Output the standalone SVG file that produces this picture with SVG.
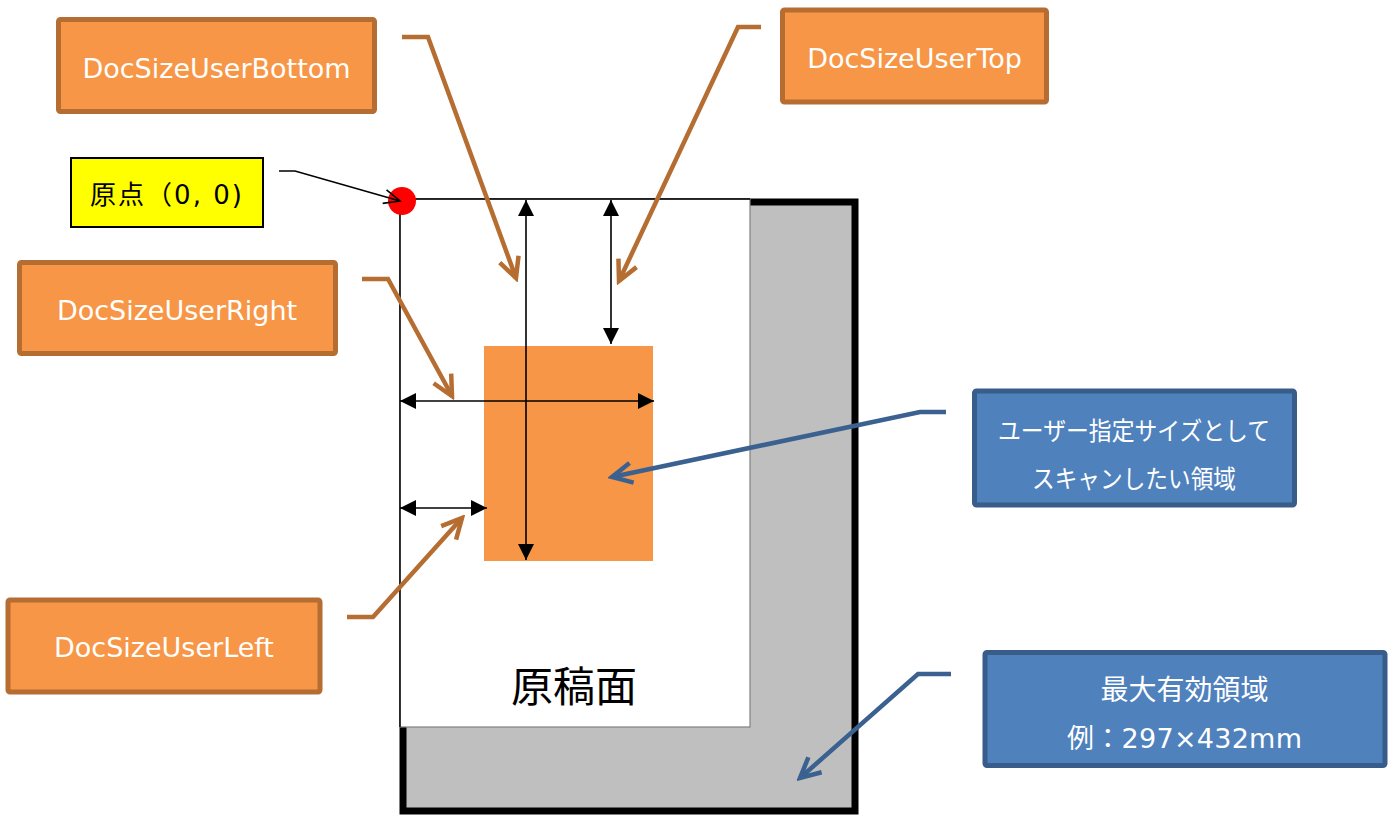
<svg xmlns="http://www.w3.org/2000/svg" width="1388" height="816" viewBox="0 0 1388 816">
<style>
.obox{fill:#F79646;stroke:#B66D31;stroke-width:5}
.bbox{fill:#4F81BD;stroke:#385D8A;stroke-width:5}
.otxt{font-family:"DejaVu Sans","Noto Sans CJK JP",sans-serif;font-size:27px;fill:#FFFFFF;text-anchor:middle}
.jtxt{font-family:"DejaVu Sans","Noto Sans CJK JP",sans-serif;font-size:25px;fill:#FFFFFF;text-anchor:middle}
.oc{fill:none;stroke:#B66D31;stroke-width:4.5;stroke-linejoin:miter}
.bc{fill:none;stroke:#3A6190;stroke-width:4.5;stroke-linejoin:miter}
.dim{fill:none;stroke:#000000;stroke-width:1.6}
</style>
<defs>
<marker id="oa" markerUnits="userSpaceOnUse" viewBox="-26 -14 30 28" markerWidth="30" markerHeight="28" refX="0" refY="0" orient="auto">
<path d="M-20,-10 L0,0 L-20,10" fill="none" stroke="#B66D31" stroke-width="4.5"/>
</marker>
<marker id="ba" markerUnits="userSpaceOnUse" viewBox="-26 -14 30 28" markerWidth="30" markerHeight="28" refX="0" refY="0" orient="auto">
<path d="M-20,-10 L0,0 L-20,10" fill="none" stroke="#3A6190" stroke-width="4.5"/>
</marker>
<marker id="ka" markerUnits="userSpaceOnUse" viewBox="-20 -11 22 22" markerWidth="22" markerHeight="22" refX="0" refY="0" orient="auto">
<path d="M-16,-7 L0,0 L-16,7" fill="none" stroke="#000000" stroke-width="1.6"/>
</marker>
<marker id="tri" markerUnits="userSpaceOnUse" viewBox="-18 -10 19 20" markerWidth="19" markerHeight="20" refX="0" refY="0" orient="auto-start-reverse">
<path d="M0,0 L-16,-8 L-16,8 Z" fill="#000000"/>
</marker>
</defs>
<rect x="0" y="0" width="1388" height="816" fill="#FFFFFF"/>

<g id="max-area">
<rect x="403" y="202" width="452" height="609" fill="#BFBFBF" stroke="#000000" stroke-width="7"/>
</g>

<g id="paper">
<rect x="400" y="199" width="350" height="528" fill="#FFFFFF" stroke="#808080" stroke-width="1.2"/>
<line x1="400" y1="199" x2="750" y2="199" stroke="#000000" stroke-width="1.4"/>
<line x1="400" y1="199" x2="400" y2="727" stroke="#000000" stroke-width="1.4"/>
<text x="574" y="702" font-family="'Noto Sans CJK JP',sans-serif" font-size="42" fill="#000000" text-anchor="middle">原稿面</text>
</g>

<g id="scan-area">
<rect x="484" y="346" width="169" height="215" fill="#F79646"/>
</g>

<g id="origin">
<circle cx="402" cy="201" r="14" fill="#FF0000"/>
</g>

<g id="connectors">
<line class="dim" x1="526" y1="200" x2="526" y2="560" marker-start="url(#tri)" marker-end="url(#tri)"/>
<line class="dim" x1="611" y1="200" x2="611" y2="344" marker-start="url(#tri)" marker-end="url(#tri)"/>
<line class="dim" x1="400" y1="401" x2="654" y2="401" marker-start="url(#tri)" marker-end="url(#tri)"/>
<line class="dim" x1="400" y1="508" x2="487" y2="508" marker-start="url(#tri)" marker-end="url(#tri)"/>
<polyline class="dim" points="279,171 295,171 400,201" marker-end="url(#ka)"/>
<polyline class="oc" points="402,37 428,37 516,278" marker-end="url(#oa)"/>
<polyline class="oc" points="761,27 738,27 619,281" marker-end="url(#oa)"/>
<polyline class="oc" points="362,279 388,279 452,396" marker-end="url(#oa)"/>
<polyline class="oc" points="347,617 373,617 462,518" marker-end="url(#oa)"/>
<polyline class="bc" points="946,412 920,412 612,477" marker-end="url(#ba)"/>
<polyline class="bc" points="951,674 918,674 800,778" marker-end="url(#ba)"/>
</g>

<g id="label-origin">
<rect x="71" y="158" width="192" height="69" fill="#FFFF00" stroke="#000000" stroke-width="2"/>
<text x="166" y="204" font-family="'DejaVu Sans','Noto Sans CJK JP',sans-serif" font-size="26" fill="#000000" text-anchor="middle" textLength="152" lengthAdjust="spacing">原点（0, 0)</text>
</g>

<g id="node-bottom">
<rect class="obox" x="58.5" y="19.5" width="316" height="92" rx="2"/>
<text class="otxt" x="216.5" y="78">DocSizeUserBottom</text>
</g>

<g id="node-top">
<rect class="obox" x="782.5" y="10" width="264" height="92" rx="2"/>
<text class="otxt" x="914.5" y="68">DocSizeUserTop</text>
</g>

<g id="node-right">
<rect class="obox" x="19.5" y="262.5" width="316" height="91" rx="2"/>
<text class="otxt" x="177" y="320">DocSizeUserRight</text>
</g>

<g id="node-left">
<rect class="obox" x="8" y="600" width="312" height="92" rx="2"/>
<text class="otxt" x="164" y="657">DocSizeUserLeft</text>
</g>

<g id="node-user-area">
<rect class="bbox" x="974.5" y="391" width="320" height="114" rx="2"/>
<text class="jtxt" x="1134" y="440" textLength="272" lengthAdjust="spacingAndGlyphs">ユーザー指定サイズとして</text>
<text class="jtxt" x="1134" y="488" textLength="204" lengthAdjust="spacingAndGlyphs">スキャンしたい領域</text>
</g>

<g id="node-max-area">
<rect class="bbox" x="985" y="652.5" width="400" height="113" rx="2"/>
<text class="jtxt" x="1184.5" y="700" style="font-size:28px">最大有効領域</text>
<text class="jtxt" x="1184.5" y="748" style="font-size:27px" textLength="235" lengthAdjust="spacing">例：297×432mm</text>
</g>
</svg>
